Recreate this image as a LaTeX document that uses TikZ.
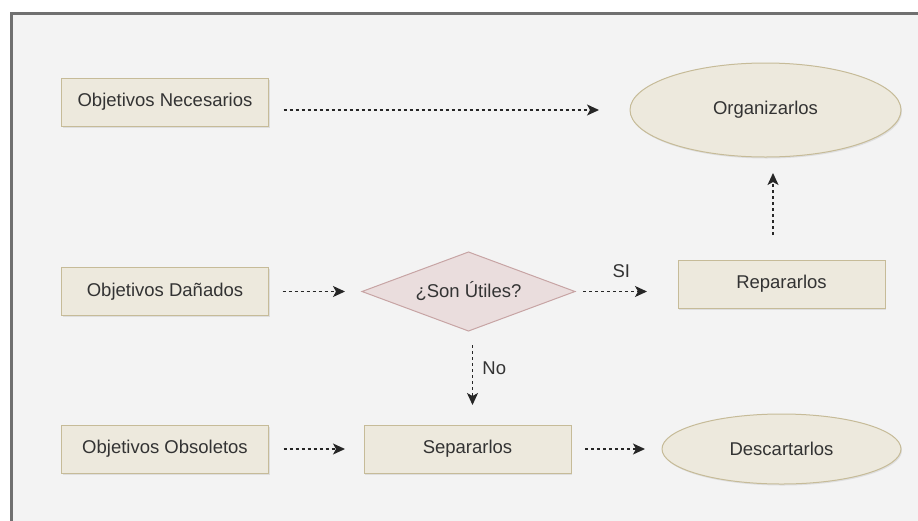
\documentclass[tikz,border=0pt]{standalone}
\usepackage{fontspec}
\setmainfont{Liberation Sans}
\usetikzlibrary{arrows.meta,positioning,shapes.geometric,shadows}
\definecolor{fondo}{HTML}{F3F3F3}
\definecolor{marco}{HTML}{707070}
\definecolor{cajafill}{HTML}{EDE9DD}
\definecolor{cajaline}{HTML}{C6BB98}
\definecolor{rombofill}{HTML}{EADDDD}
\definecolor{romboline}{HTML}{C7A4A4}
\definecolor{texto}{HTML}{333333}

\begin{document}
\begin{tikzpicture}[x=1pt,y=-1pt,
    every node/.style={font=\fontsize{18.5}{22}\selectfont, text=texto},
    sombra/.style={drop shadow={shadow xshift=1pt, shadow yshift=-1.5pt, opacity=0.18}},
    paso/.style={draw=cajaline, fill=cajafill, line width=1pt, sombra,
        minimum width=207pt, minimum height=48pt, inner sep=0pt, outer sep=0pt},
    final/.style={ellipse, draw=cajaline, fill=cajafill, line width=1pt, sombra,
        inner sep=0pt, outer sep=0pt},
    pregunta/.style={diamond, aspect=2.7, draw=romboline, fill=rombofill, line width=1pt,
        minimum width=213pt, minimum height=79pt, inner sep=0pt, outer sep=0pt},
    flecha/.style={draw=black!85, line width=1.3pt, dash pattern=on 3pt off 3pt,
        -{Stealth[length=12pt,width=11pt,inset=3pt]},
        shorten <=14pt, shorten >=18pt}
  ]
  % fondo y marco
  \useasboundingbox (0,0) rectangle (918,520);
  \fill[white] (0,0) rectangle (918,520);
  \draw[marco, fill=fondo, line width=2.5pt] (11.5,13.5) rectangle (940,540);

  % nodos
  \node[paso] (nec) at (165,102) {Objetivos Necesarios};
  \node[paso] (dan) at (165,291.5) {Objetivos Dañados};
  \node[paso] (obs) at (165,449) {Objetivos Obsoletos};
  \node[pregunta] (util) at (468.5,291.5) {¿Son Útiles?};
  \node[paso] (rep) at (781.5,284) {Repararlos};
  \node[paso] (sep) at (467.5,449) {Separarlos};
  \node[final, minimum width=271pt, minimum height=94pt] (org) at (765.5,110) {Organizarlos};
  \node[final, minimum width=239pt, minimum height=70pt] (desc) at (781.5,449) {Descartarlos};

  % conectores
  \draw[flecha, shorten <=15pt, shorten >=31pt] (nec.east |- org) -- (org.west);
  \draw[flecha, shorten >=17pt] (dan) -- (util);
  \draw[flecha, shorten <=8pt, shorten >=31pt] (util.east) -- (util.east -| rep.west)
      node[pos=0.45, above=10pt] {SI};
  \draw[flecha, shorten <=25pt, shorten >=16pt] ([xshift=-8.5pt]rep.north) -- ([xshift=-8.5pt]rep.north |- org.south);
  \draw[flecha, shorten <=14pt, shorten >=20pt] ([xshift=4pt]util.south) -- ([xshift=4pt]util.south |- sep.north)
      node[pos=0.4, right=6pt] {No};
  \draw[flecha, shorten <=15pt, shorten >=19pt] (obs) -- (sep);
  \draw[flecha, shorten >=17pt] (sep) -- (desc);
\end{tikzpicture}
\end{document}
